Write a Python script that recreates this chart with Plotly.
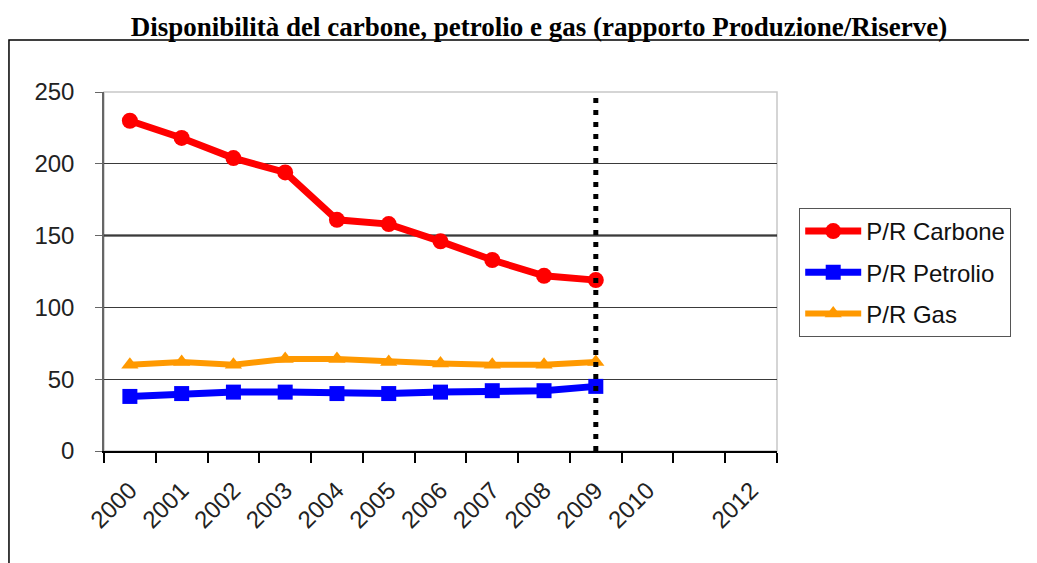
import plotly.graph_objects as go

years = ["2000", "2001", "2002", "2003", "2004", "2005", "2006", "2007", "2008", "2009", "2010", "2011", "2012"]
tick_labels = ["2000", "2001", "2002", "2003", "2004", "2005", "2006", "2007", "2008", "2009", "2010", "", "2012"]
data_years = ["2000", "2001", "2002", "2003", "2004", "2005", "2006", "2007", "2008", "2009"]
carbone = [230, 218, 204, 194, 161, 158, 146, 133, 122, 119]
petrolio = [38, 40, 41, 41, 40, 40, 41, 42, 42, 45]
gas = [60, 62, 60, 64, 64, 62, 61, 60, 60, 62]
marker_year = "2009"

fig = go.Figure()
fig.add_trace(go.Scatter(x=data_years, y=carbone, name="P/R Carbone", mode="lines+markers",
                         line=dict(color="#ff0000", width=7),
                         marker=dict(symbol="circle", size=16, color="#ff0000"),
                         legendgroup="a"))
fig.add_trace(go.Scatter(x=data_years, y=petrolio, name="P/R Petrolio", mode="lines+markers",
                         line=dict(color="#0000ff", width=7),
                         marker=dict(symbol="square", size=15, color="#0000ff"),
                         legendgroup="b"))
fig.add_trace(go.Scatter(x=data_years, y=gas, name="P/R Gas", mode="lines+markers",
                         line=dict(color="#ff9900", width=6),
                         marker=dict(symbol="triangle-up", size=15, color="#ff9900"),
                         legendgroup="c"))

# plot area border (light gray)
fig.add_shape(type="rect", xref="paper", yref="paper", x0=0, x1=1, y0=0, y1=1,
              line=dict(color="#c8c8c8", width=1.5), layer="below")
# thick 150 gridline
fig.add_shape(type="line", xref="paper", yref="y", x0=0, x1=1, y0=150, y1=150,
              line=dict(color="#000000", width=2), layer="between")
# vertical dotted line
idx = years.index(marker_year)
fig.add_shape(type="line", xref="x", yref="y", x0=idx, x1=idx, y0=0, y1=250,
              line=dict(color="#000000", width=5, dash="5px,7px"))
# outer frame
fig.add_shape(type="rect", xref="paper", yref="paper", x0=-0.1412, x1=1.6, y0=-0.6, y1=1.1448,
              line=dict(color="#000000", width=1.5))

fig.update_layout(
    width=1029, height=555,
    margin=dict(l=96, r=260, t=84, b=112),
    paper_bgcolor="white", plot_bgcolor="white",
    title=dict(text="<b>Disponibilità del carbone, petrolio e gas (rapporto Produzione/Riserve)</b>",
               x=0.516, xanchor="center", y=0.966, yanchor="middle",
               font=dict(family="Liberation Serif", size=27, color="#000000")),
    showlegend=True,
    legend=dict(x=1.033, y=0.677, xanchor="left", yanchor="top",
                bordercolor="#555555", borderwidth=1, bgcolor="white",
                font=dict(family="Liberation Sans", size=24, color="#111111"),
                tracegroupgap=7, traceorder="grouped", itemwidth=56),
    font=dict(family="Liberation Sans", color="#222222"),
)
fig.update_xaxes(type="category", categoryorder="array", categoryarray=years,
                 tickvals=years, ticktext=tick_labels, range=[-0.5, len(years) - 0.5],
                 tickangle=-45, tickson="boundaries", ticks="outside", ticklen=10,
                 tickcolor="#000000", tickwidth=1.5, ticklabelstandoff=14,
                 showline=True, linecolor="#000000", linewidth=1.5,
                 showgrid=False, tickfont=dict(size=24, color="#222222"))
fig.update_yaxes(range=[0, 250], dtick=50, ticks="outside", ticklen=7, tickcolor="#666666",
                 ticklabelstandoff=16,
                 showline=True, linecolor="#666666", linewidth=1.5,
                 showgrid=True, gridcolor="#3a3a3a", gridwidth=1, zeroline=False,
                 tickfont=dict(size=24, color="#222222"))

fig.write_html("out.html")
